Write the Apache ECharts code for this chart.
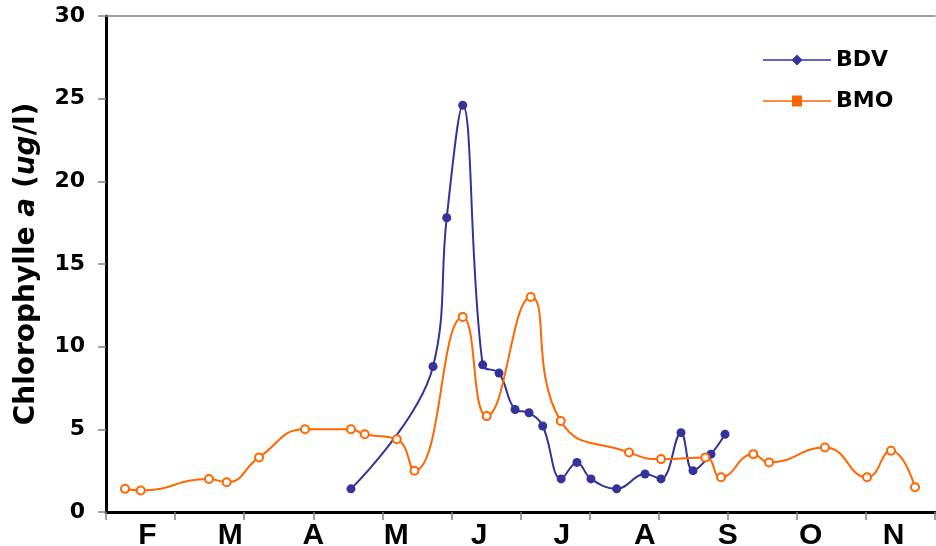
<!DOCTYPE html>
<html>
<head>
<meta charset="utf-8">
<script src="https://cdn.jsdelivr.net/npm/echarts@6/dist/echarts.min.js"></script>
<style>
  html, body { margin: 0; padding: 0; background: #fff; }
  #main { width: 936px; height: 546px; }
</style>
</head>
<body>
<div id="main"></div>
<script>
// month labels, one per band along the bottom
var months = ['F', 'M', 'A', 'M', 'J', 'J', 'A', 'S', 'O', 'N'];

// x = months since start of February (0 = 1 Feb, 10 = 1 Dec)
var bdvX = [2.955, 3.945, 4.110, 4.303, 4.544, 4.741, 4.934, 5.103, 5.268, 5.490,
            5.681, 5.850, 6.160, 6.502, 6.695, 6.936, 7.081, 7.298, 7.467];
var bdvY = [1.4, 8.8, 17.8, 24.6, 8.9, 8.4, 6.2, 6.0, 5.2, 2.0,
            3.0, 2.0, 1.4, 2.3, 2.0, 4.8, 2.5, 3.5, 4.7];

var bmoX = [0.229, 0.419, 1.242, 1.456, 1.846, 2.400, 2.955, 3.121, 3.507, 3.721,
            4.303, 4.592, 5.123, 5.485, 6.309, 6.695, 7.229, 7.419, 7.808, 7.998,
            8.673, 9.180, 9.469, 9.759];
var bmoY = [1.4, 1.3, 2.0, 1.8, 3.3, 5.0, 5.0, 4.7, 4.4, 2.5,
            11.8, 5.8, 13.0, 5.5, 3.6, 3.2, 3.3, 2.1, 3.5, 3.0,
            3.9, 2.1, 3.7, 1.5];

// tick axis has 12 divisions over the 10 months
var TICKS_PER_MONTH = 1.2;

function pairs(xs, ys) {
    return xs.map(function (x, i) { return [x * TICKS_PER_MONTH, ys[i]]; });
}

var chart = echarts.init(document.getElementById('main'));

var option = {
    animation: false,
    grid: { left: 106, right: 1, top: 16, bottom: 34, outerBoundsMode: 'none', containLabel: false },
    legend: {
        orient: 'vertical',
        left: 758,
        top: 44,
        itemWidth: 68,
        itemHeight: 14,
        itemGap: 19,
        textStyle: {
            fontFamily: 'DejaVu Sans',
            fontWeight: 'bold',
            fontSize: 22,
            lineHeight: 22,
            color: '#000'
        },
        data: [
            { name: 'BDV', icon: 'path://M0,6.3H68V7.7H0Z M34,1.5L39.5,7L34,12.5L28.5,7Z' },
            { name: 'BMO', icon: 'path://M0,6.3H68V7.7H0Z M29,1.5H39V12.5H29Z' }
        ]
    },
    xAxis: [
        {
            type: 'value',
            position: 'bottom',
            min: 0,
            max: 12,
            interval: 1,
            axisLine: { lineStyle: { color: '#000', width: 3 } },
            axisTick: { length: 8, lineStyle: { color: '#808080', width: 1.5 } },
            axisLabel: { show: false },
            splitLine: { show: false }
        },
        {
            type: 'category',
            position: 'bottom',
            data: months,
            boundaryGap: true,
            axisLine: { show: false },
            axisTick: { show: false },
            axisLabel: {
                margin: 9,
                fontFamily: 'Liberation Sans',
                fontWeight: 'bold',
                fontSize: 30,
                color: '#000'
            }
        },
        {
            type: 'value',
            position: 'top',
            min: 0,
            max: 12,
            axisLine: { lineStyle: { color: '#808080', width: 1.5 } },
            axisTick: { show: false },
            axisLabel: { show: false },
            splitLine: { show: false }
        }
    ],
    yAxis: {
        type: 'value',
        min: 0,
        max: 30,
        interval: 5,
        name: '{n|Chlorophylle }{i|a}{n| (}{i|ug}{n|/l)}',
        nameLocation: 'middle',
        nameGap: 65,
        nameTextStyle: {
            rich: {
                n: { fontFamily: 'DejaVu Sans', fontWeight: 'bold', fontSize: 28, color: '#000' },
                i: { fontFamily: 'DejaVu Sans', fontWeight: 'bold', fontStyle: 'italic', fontSize: 28, color: '#000' }
            }
        },
        axisLine: { show: true, lineStyle: { color: '#000', width: 3 } },
        axisTick: { show: true, length: 8, lineStyle: { color: '#808080', width: 1.5 } },
        axisLabel: {
            margin: 21,
            fontFamily: 'DejaVu Sans',
            fontWeight: 'bold',
            fontSize: 22,
            color: '#000'
        },
        splitLine: { show: false }
    },
    series: [
        {
            name: 'BDV',
            type: 'line',
            xAxisIndex: 0,
            data: pairs(bdvX, bdvY),
            smooth: 0.4,
            symbol: 'circle',
            symbolSize: 9,
            color: '#333399',
            lineStyle: { width: 2 }
        },
        {
            name: 'BMO',
            type: 'line',
            xAxisIndex: 0,
            data: pairs(bmoX, bmoY),
            smooth: 0.5,
            symbol: 'emptyCircle',
            symbolSize: 8,
            color: '#ff6600',
            itemStyle: { borderWidth: 2 },
            lineStyle: { width: 2 }
        }
    ]
};

chart.setOption(option);
</script>
</body>
</html>
